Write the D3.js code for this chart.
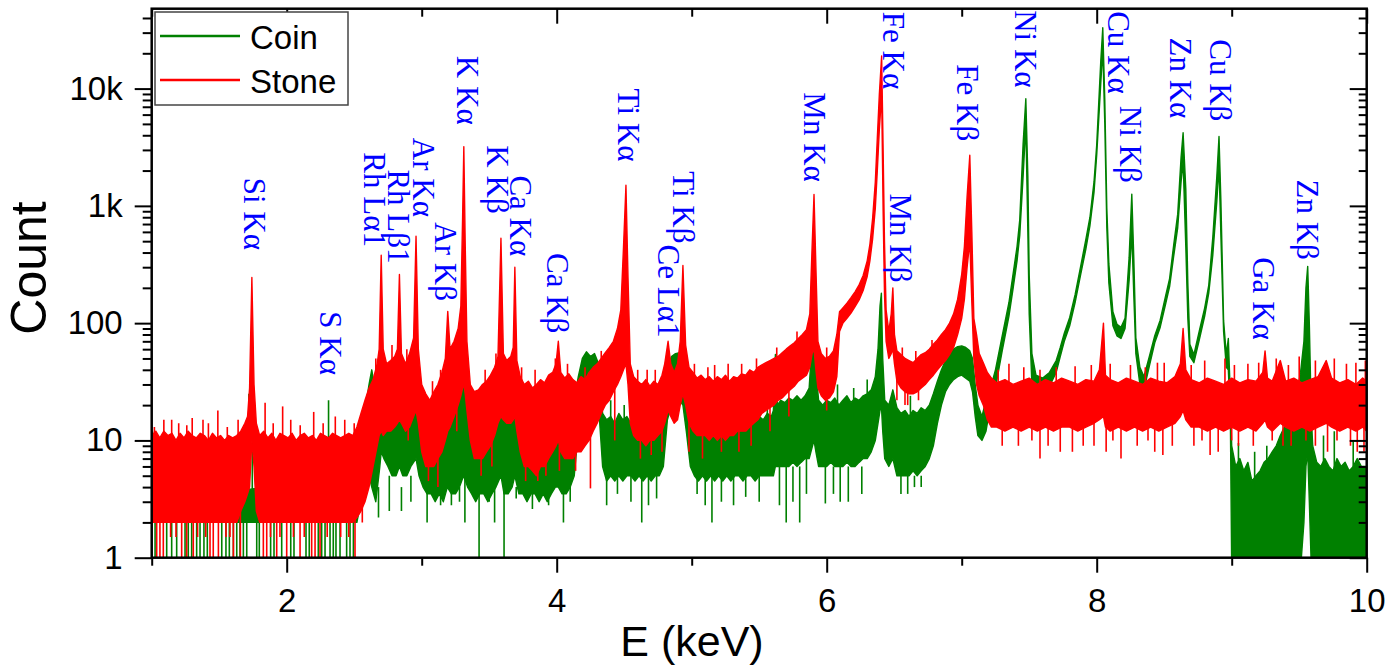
<!DOCTYPE html>
<html>
<head>
<meta charset="utf-8">
<script src="https://cdn.jsdelivr.net/npm/d3@7"></script>
<style>
  body { margin: 0; background: #fff; }
  svg { display: block; }
  text { font-family: "Liberation Sans", Arial, sans-serif; fill: #000; }
  .peak { font-family: "Liberation Serif", "Times New Roman", serif; fill: #0000ff; font-size: 31px; }
</style>
</head>
<body>
<svg width="1388" height="671"></svg>
<script>
// ---- data (E in keV, counts) ----
const seriesNames = ["Coin", "Stone"];
const seriesColors = ["#008000", "#ff0000"];
const xMajorTicks = [2, 4, 6, 8, 10];
const xMinorTicks = [1, 3, 5, 7, 9];
const yMajorTicks = [1, 10, 100, 1000, 10000];
const yTickLabels = ["1", "10", "100", "1k", "10k"];

// band of the noisy spectrum: [E, low, high]
const stoneBand = [
  [1.00,2,11],[1.03,2,12],[1.06,2,10.5],[1.09,2,12],[1.12,2,11],[1.15,2,11.5],[1.18,2,10],[1.21,2,11.5],
  [1.24,2,10.5],[1.27,2,12],[1.30,2,11],[1.33,2,10.5],[1.36,2,11.5],[1.39,2,11],[1.42,2,10],[1.45,2,11.5],
  [1.48,2,10.5],[1.51,2,11],[1.54,2,10],[1.57,2,11],[1.60,2,10.5],[1.63,2,11],[1.66,2.5,12],[1.69,3,14],
  [1.71,3.5,16],[1.725,4,28],[1.742,10,245],[1.758,6,30],[1.775,2.5,14],[1.80,2,11],[1.83,2,12],[1.86,2,10.5],
  [1.89,2,11.5],[1.92,2,10],[1.95,2,11.5],[1.98,2,11],[2.01,2,10.5],[2.04,2,11.5],[2.07,2,10],[2.10,2,11],
  [2.13,2,11.5],[2.16,2,10.5],[2.19,2,11],[2.22,2,10],[2.25,2,11.5],[2.28,2,11],[2.31,2,10.5],[2.34,2,11.5],
  [2.37,2,11],[2.40,2,10.5],[2.43,2,11],[2.46,2,11.5],[2.49,2,11],[2.52,2.2,13],
  [2.55,2.5,17],[2.58,3,22],[2.61,4,28],[2.64,6,33],[2.67,9,45],[2.685,11,60],[2.70,12,380],[2.715,11,60],
  [2.74,12,45],[2.77,12,48],[2.80,13,52],[2.82,14,60],[2.835,15,260],[2.85,14,55],[2.88,12,45],[2.91,13,55],
  [2.94,16,75],[2.958,18,550],[2.975,14,60],[3.00,8,30],[3.03,6,25],[3.06,6,22],[3.09,6,26],[3.12,7,30],
  [3.15,8,38],[3.175,10,50],[3.193,12,126],[3.21,13,60],[3.24,16,70],[3.27,20,90],[3.29,24,140],[3.303,28,800],
  [3.312,30,3200],[3.322,25,500],[3.335,18,70],[3.36,10,30],[3.39,7,26],[3.42,7,27],[3.45,7,30],[3.48,8,32],
  [3.51,9,36],[3.54,11,42],[3.565,14,52],[3.587,16,530],[3.605,15,55],[3.63,14,48],[3.66,14,52],[3.678,15,62],
  [3.69,16,300],[3.705,12,48],[3.73,8,35],[3.76,6,30],[3.79,6,32],[3.82,5.5,28],[3.85,5,30],[3.88,6,33],
  [3.91,6,31],[3.94,7,36],[3.97,8,38],[3.995,9,45],[4.012,10,70],[4.03,8,38],[4.06,7,34],[4.09,7,37],
  [4.12,7,33],[4.15,8,31],[4.18,8,35],[4.21,9,33],[4.24,10,38],[4.27,12,42],[4.30,14,45],[4.33,17,50],
  [4.36,20,56],[4.39,22,62],[4.42,26,70],[4.45,30,90],[4.475,35,130],[4.495,40,450],[4.513,45,1500],[4.528,30,250],
  [4.545,14,45],[4.57,11,35],[4.60,10,32],[4.63,10,30],[4.66,9,33],[4.69,10,29],[4.72,10,32],[4.75,11,30],
  [4.78,12,36],[4.80,14,45],[4.825,18,70],[4.845,16,45],[4.87,14,38],[4.895,15,45],[4.915,20,70],[4.935,25,310],
  [4.955,20,65],[4.98,14,42],[5.01,12,38],[5.04,11,34],[5.07,11,36],[5.10,11,33],[5.13,10,35],[5.16,11,32],
  [5.19,10,35],[5.22,11,33],[5.25,10,36],[5.28,11,32],[5.31,11,35],[5.34,12,34],[5.37,12,37],[5.40,12,36],
  [5.43,13,40],[5.46,14,38],[5.49,15,42],[5.52,17,44],[5.55,18,46],[5.58,19,48],[5.61,20,50],[5.64,22,52],
  [5.67,23,56],[5.70,25,60],[5.73,27,64],[5.76,29,68],[5.79,32,74],[5.82,34,80],[5.85,36,88],[5.875,42,120],
  [5.892,55,450],[5.906,60,1250],[5.92,40,300],[5.935,28,70],[5.96,24,55],[5.99,22,50],[6.02,23,52],[6.05,26,58],
  [6.075,35,80],[6.095,85,125],[6.12,100,135],[6.15,110,148],[6.18,122,165],[6.21,138,185],[6.24,158,212],[6.27,190,255],
  [6.30,250,340],[6.32,340,470],[6.34,520,780],[6.36,950,1600],[6.375,2000,3800],[6.39,4500,9000],[6.407,9000,19000],[6.418,900,3000],
  [6.428,180,500],[6.44,70,130],[6.46,50,85],[6.478,55,120],[6.49,60,200],[6.502,45,80],[6.52,32,58],[6.55,28,54],
  [6.58,26,50],[6.61,25,48],[6.64,25,46],[6.67,26,50],[6.70,28,54],[6.73,30,56],[6.76,33,60],[6.79,36,66],
  [6.82,40,72],[6.85,44,80],[6.88,48,88],[6.91,54,100],[6.94,62,120],[6.97,80,160],[7.00,110,260],[7.02,160,450],
  [7.04,300,1200],[7.06,500,2700],[7.075,150,600],[7.09,50,110],[7.11,30,80],[7.13,24,55],[7.16,20,46],[7.19,15,38],
  [7.22,13,34],[7.26,13,31],[7.32,12,33],[7.38,13,30],[7.44,12,32],[7.50,13,34],[7.56,12,30],[7.62,13,33],
  [7.68,12,31],[7.74,13,34],[7.80,13,32],[7.86,12,30],[7.92,13,33],[7.98,14,32],[8.02,15,40],[8.05,16,100],
  [8.065,13,36],[8.10,12,33],[8.16,13,31],[8.22,12,34],[8.28,13,32],[8.34,12,30],[8.40,13,34],[8.46,12,32],
  [8.52,13,31],[8.58,14,35],[8.62,16,45],[8.64,18,90],[8.66,15,40],[8.70,13,33],[8.76,13,31],[8.82,12,34],
  [8.88,13,32],[8.94,12,30],[9.00,13,34],[9.06,12,31],[9.12,13,33],[9.18,12,32],[9.23,14,38],[9.247,15,58],
  [9.265,13,34],[9.30,12,32],[9.36,14,48],[9.40,13,32],[9.46,12,34],[9.52,13,31],[9.58,12,33],[9.64,13,35],
  [9.70,14,48],[9.74,13,34],[9.80,12,31],[9.86,13,33],[9.92,12,30],[9.97,13,34],[10.0,12,32]
];

const coinBand = [
  [1.00,2,3],[2.52,2,5],[2.55,3,10],[2.58,4,18],[2.61,5,30],[2.63,4,40],[2.66,3,25],[2.69,6,38],
  [2.70,8,45],[2.72,7,32],[2.75,6,28],[2.78,5,24],[2.81,5,26],[2.835,6,35],[2.86,5,28],[2.89,5,32],
  [2.92,6,40],[2.958,7,70],[2.98,5,30],[3.01,4,18],[3.04,3.5,16],[3.07,3.5,17],[3.10,3,15],[3.13,3.5,18],
  [3.16,3,16],[3.19,4,20],[3.22,3.5,17],[3.25,3.5,18],[3.28,4,22],[3.31,5,35],[3.34,4,20],[3.37,3.5,16],
  [3.40,3,15],[3.43,3.5,17],[3.46,3.5,16],[3.49,3,18],[3.52,3.5,17],[3.55,4,19],[3.587,5,28],[3.61,3.5,18],
  [3.64,3.5,16],[3.67,4,19],[3.69,5,26],[3.72,3.5,17],[3.75,3.5,16],[3.78,3,15],[3.81,3.5,17],[3.84,3.5,16],
  [3.87,3,15],[3.90,3.5,17],[3.93,3,16],[3.96,3.5,18],[3.99,4,17],[4.012,4,22],[4.04,3.5,16],[4.07,3.5,17],
  [4.10,4,18],[4.13,5,22],[4.16,12,35],[4.19,22,50],[4.22,24,57],[4.25,22,52],[4.28,25,55],[4.31,20,45],
  [4.34,6,17],[4.37,4.5,15],[4.40,5,16],[4.43,4.5,14],[4.46,5,17],[4.49,4.5,15],[4.52,5,16],[4.55,5,14],
  [4.58,4.5,15],[4.61,5,16],[4.64,4.5,15],[4.67,5,14],[4.70,4.5,16],[4.73,5,15],[4.76,5,17],[4.79,6,20],
  [4.82,15,40],[4.85,20,52],[4.88,18,55],[4.91,22,56],[4.935,20,55],[4.96,12,30],[4.99,6,18],[5.02,5,15],
  [5.05,4.5,16],[5.08,5,14],[5.11,4.5,15],[5.14,5,17],[5.17,4.5,14],[5.20,5,16],[5.23,4.5,15],[5.26,5,17],
  [5.29,4.5,14],[5.32,5,16],[5.35,5,15],[5.38,4.5,17],[5.41,5,15],[5.44,5,16],[5.47,4.5,14],[5.50,5,16],
  [5.53,5,15],[5.56,5,17],[5.59,5,16],[5.605,5,18],[5.62,6,54],[5.635,6,20],[5.66,6,22],[5.69,6,21],
  [5.72,6,23],[5.75,6.5,22],[5.78,6,24],[5.81,6.5,22],[5.84,7,24],[5.87,7,28],[5.895,9,80],[5.906,10,118],
  [5.92,8,40],[5.94,6,22],[5.97,6,20],[6.00,6,22],[6.03,6.5,21],[6.06,6,23],[6.09,6,20],[6.12,6,22],
  [6.15,6.5,24],[6.18,6,21],[6.21,6,23],[6.24,6.5,22],[6.27,7,24],[6.30,7,25],[6.33,8,27],[6.36,10,35],
  [6.38,14,60],[6.395,18,140],[6.405,20,180],[6.415,12,50],[6.43,7,22],[6.46,6,20],[6.49,7,27],[6.52,5,19],
  [6.55,5,17],[6.58,5,18],[6.61,5,16],[6.64,5.5,18],[6.67,5,17],[6.70,5.5,19],[6.73,6,18],[6.76,7,20],
  [6.79,9,25],[6.82,14,32],[6.85,20,40],[6.88,26,48],[6.91,30,55],[6.94,33,60],[6.97,35,63],[7.00,36,64],
  [7.03,34,62],[7.06,32,58],[7.08,26,50],[7.10,16,30],[7.12,11,20],[7.15,10,16],[7.18,12,22],
  [7.21,19,27],[7.25,28,40],[7.30,58,78],[7.35,115,150],[7.38,195,260],[7.41,340,450],[7.43,560,760],[7.455,1800,3400],
  [7.475,5000,8200],[7.49,600,1800],[7.50,120,260],[7.52,30,55],[7.55,26,36],[7.60,26,34],[7.65,29,38],[7.70,38,48],
  [7.73,52,62],[7.76,70,82],[7.80,95,112],[7.84,150,175],[7.88,255,300],[7.92,430,520],[7.95,680,800],[7.98,1300,1600],
  [8.00,2700,3300],[8.03,11000,17000],[8.045,22000,33000],[8.06,5000,8000],[8.075,650,950],[8.09,220,320],[8.12,95,125],[8.15,78,98],
  [8.18,74,92],[8.21,90,110],[8.24,230,360],[8.26,600,1260],[8.275,170,350],[8.29,55,75],[8.32,30,42],[8.35,27,35],
  [8.39,43,52],[8.43,68,78],[8.47,92,106],[8.51,145,170],[8.54,205,240],[8.57,370,460],[8.60,650,850],[8.625,1600,2600],
  [8.64,2400,4200],[8.66,450,1400],[8.675,110,220],[8.69,52,66],[8.72,46,54],[8.76,72,86],[8.80,115,135],[8.83,180,210],
  [8.86,380,540],[8.89,1100,1800],[8.906,2200,3900],[8.92,550,1100],[8.94,85,105],[8.96,42,54],[8.975,40,74],[8.99,16,24],
  [9.00,0.8,9],[9.03,0.8,6],[9.06,0.8,7],[9.09,0.8,5.5],[9.12,0.8,6.5],[9.15,0.8,4.5],[9.18,0.8,5],[9.21,0.8,5.5],
  [9.24,0.8,6.5],[9.27,0.8,7],[9.30,0.8,8],[9.33,0.8,9],[9.36,0.8,11],[9.39,0.8,13],[9.42,0.8,16],[9.45,0.8,19],
  [9.48,0.8,24],[9.51,0.8,38],[9.535,2,70],[9.55,6,200],[9.563,8,305],[9.575,3,100],[9.59,0.8,16],[9.60,0.8,9],
  [9.63,0.8,6.5],[9.66,0.8,6],[9.69,0.8,7],[9.72,0.8,6],[9.75,0.8,5.5],[9.78,0.8,7],[9.81,0.8,6],[9.84,0.8,6.5],
  [9.87,0.8,5.5],[9.90,0.8,6],[9.93,0.8,7],[9.96,0.8,6],[10.0,0.8,6]
];

// single-channel spikes sticking out of the bands: [E, from, to]
const stoneSpikes = [
  [1.037,2.5,0.6],[1.061,2.5,0.6],[1.086,2.5,0.6],[1.222,2.5,0.6],[1.259,2.5,0.6],[1.308,2.5,0.6],[1.432,2.5,0.6],
  [1.456,2.5,0.6],[1.494,2.5,0.6],[1.605,2.5,0.6],[1.657,2.5,0.6],[1.827,2.5,0.6],[1.852,2.5,0.6],[1.926,2.5,0.6],
  [2.000,2.5,0.6],[2.099,2.5,0.6],[2.185,2.5,0.6],[2.210,2.5,0.6],[2.247,2.5,0.6],[2.506,2.5,0.6],
  [1.14,2.5,1.5],[1.18,2.5,1.5],[1.34,2.5,1.5],[1.40,2.5,1.5],[1.55,2.5,1.5],[1.58,2.5,1.5],[1.88,2.5,1.5],
  [1.95,2.5,1.5],[2.05,2.5,1.5],[2.13,2.5,1.5],[2.30,2.5,1.5],[2.40,2.5,1.5],[2.46,2.5,1.5],
  [1.09,8,15],[1.148,8,15],[1.30,8,15.5],[1.38,8,15],[1.49,8,18],[1.84,8,21],[1.97,8,19.5],[2.20,8,17.5],[2.36,8,16],[2.50,8,14],
  [1.02,8,13],[1.20,8,14],[1.26,8,13.5],[1.42,8,14],[1.56,8,13],[1.64,8,15],[1.90,8,14],[2.03,8,15],[2.10,8,13.5],[2.27,8,14],[2.43,8,15],
  [2.56,4,2],[3.05,8,4.5],[3.12,8,4],[3.44,9,5],[3.77,8,4.5],[4.02,9,5.5],[4.25,12,3.9],[4.43,28,10],[4.78,14,8],
  [5.08,14,7],[5.35,14,8],[5.58,22,12],[6.52,34,22],[6.60,30,20],
  [2.90,15,10],[3.26,20,12],[3.52,12,6],[3.86,8,4.5],[3.92,8,5],[4.14,10,5.5],[4.62,12,7],[4.70,12,7.5],[4.98,14,8],
  [5.22,14,8],[5.44,15,9],[5.72,28,16],[6.00,25,18],[6.58,30,20],[6.68,30,22],
  [2.66,30,50],[3.08,20,32],[3.47,25,40],[3.84,25,40],[4.08,28,45],[4.21,28,42],[4.67,25,40],[5.12,28,42],
  [5.27,28,45],[5.48,30,50],[6.00,40,62],
  [2.78,40,65],[2.89,40,60],[3.14,30,40],[3.55,40,55],[3.74,30,42],[3.99,35,50],[4.33,40,58],[4.60,28,40],[4.73,28,40],
  [5.02,30,45],[5.17,28,44],[5.37,30,45],[5.63,45,62],[5.78,60,85],[6.56,45,62],[6.66,42,58],[6.78,55,72],
  [7.30,20,9],[7.58,20,7],[7.73,20,8],[7.90,20,9],[8.07,20,8],[8.30,20,9],[8.49,20,7.5],[8.84,20,7.5],
  [9.05,20,9],[9.38,20,9],[9.62,20,9],[9.93,20,8],[9.98,20,8],
  [7.42,20,9],[7.52,20,10],[7.64,20,9],[7.82,20,8],[7.98,20,9],[8.12,20,10],[8.18,20,7],[8.38,20,10],[8.43,20,8],
  [8.56,20,9],[8.72,20,9],[8.78,20,10],[8.90,20,8],[9.00,20,10],[9.16,20,9],[9.30,20,10],[9.44,20,9],[9.55,20,10],
  [9.71,20,8],[9.78,20,10],[9.88,20,9],
  [7.35,25,45],[7.70,25,42],[7.96,25,44],[8.25,25,44],[8.50,25,46],[8.95,25,50],[9.12,25,45],[9.50,25,52],[9.85,25,45],[9.99,25,48],
  [7.27,25,40],[7.46,25,42],[7.58,25,40],[7.84,25,43],[8.10,25,45],[8.36,25,42],[8.45,25,46],[8.70,25,44],[8.80,25,48],
  [9.02,25,44],[9.20,25,46],[9.33,25,50],[9.42,25,44],[9.62,25,48],[9.76,25,50],[9.92,25,46]
];

const coinSpikes = [
  [1.000,2.2,0.6],[1.025,2.2,0.6],[1.111,2.2,0.6],[1.148,2.2,0.6],[1.185,2.2,0.6],[1.247,2.2,0.6],[1.271,2.2,0.6],
  [1.296,2.2,0.6],[1.333,2.2,0.6],[1.358,2.2,0.6],[1.387,2.2,0.6],[1.412,2.2,0.6],[1.519,2.2,0.6],[1.550,2.2,0.6],
  [1.575,2.2,0.6],[1.605,2.2,0.6],[1.630,2.2,0.6],[1.654,2.2,0.6],[1.679,2.2,0.6],[1.704,2.2,0.6],[1.778,2.2,0.6],
  [1.797,2.2,0.6],[1.881,2.2,0.6],[1.906,2.2,0.6],[1.963,2.2,0.6],[2.030,2.2,0.6],[2.054,2.2,0.6],[2.143,2.2,0.6],
  [2.167,2.2,0.6],[2.234,2.2,0.6],[2.259,2.2,0.6],[2.284,2.2,0.6],[2.321,2.2,0.6],[2.345,2.2,0.6],[2.365,2.2,0.6],
  [2.395,2.2,0.6],[2.444,2.2,0.6],[2.469,2.2,0.6],[2.494,2.2,0.6],
  [1.005,3,12],[1.10,3,9],[1.72,3,25],[1.745,3,22],[2.31,3,22],[2.45,3,8],
  [3.04,4,2],[3.22,4,2.8],[3.32,5,2],[3.425,4,0.6],[3.54,4,2],[3.61,4,0.6],[3.94,4,2.8],[4.05,4,2],
  [4.37,5,2.8],[4.63,5,2],[4.68,5,2.8],[5.10,5,2.8],[5.15,5,2],[5.31,5,2.8],[5.65,6,2.8],[5.70,6,2],
  [5.80,6,2],[5.99,6,2.9],[6.10,6,3],[6.55,5,3.5],[6.65,5,4],[2.68,4,2.2],[2.85,4,2.5],
  [2.76,5,2.5],[2.92,5,3],[3.14,4,2.8],[3.28,4,3],[3.50,4,3],[3.70,4,3.2],[3.82,4,2.6],[4.10,4,3],[4.45,5,3.5],
  [4.55,5,3],[4.74,5,3.2],[5.04,5,3.5],[5.22,5,3],[5.40,5,3.3],[5.50,5,3],[5.75,6,3],[5.85,7,3.5],[6.05,6,3.5],
  [6.16,6,3],[6.26,6,3.5],[6.60,5,3.5],[6.70,5,4],
  [3.02,15,26],[3.95,15,28],[4.50,14,20],[5.50,14,20],[6.20,20,28],
  [3.12,15,24],[3.36,15,25],[3.76,15,24],[4.40,14,22],[4.62,14,24],[5.06,14,22],[5.28,14,24],[5.56,14,22],
  [6.08,20,30],[6.30,22,33],[6.62,16,24],
  [9.05,5,9.5],[9.17,4,8],[9.26,5,9],[9.68,5,11],[9.76,5,12],[9.90,5,10]
];

// peak annotations: text, E of the label baseline, log10 count at the label start
const peakText = ["Si K\u03b1","S K\u03b1","Rh L\u03b11","Rh L\u03b21","Ar K\u03b1","Ar K\u03b2","K K\u03b1","K K\u03b2",
  "Ca K\u03b1","Ca K\u03b2","Ti K\u03b1","Ti K\u03b2","Ce L\u03b11","Mn K\u03b1","Fe K\u03b1","Mn K\u03b2","Fe K\u03b2",
  "Ni K\u03b1","Cu K\u03b1","Ni K\u03b2","Zn K\u03b1","Cu K\u03b2","Ga K\u03b1","Zn K\u03b2"];
const peakE = [1.686,2.247,2.575,2.753,2.938,3.099,3.259,3.481,3.654,3.926,4.456,4.864,4.753,5.834,6.419,6.469,6.963,
  7.395,8.080,8.173,8.543,8.839,9.160,9.481];
const peakLogCount = [3.240,2.101,3.457,3.311,3.580,2.860,4.279,3.516,3.260,2.598,4.000,3.296,2.670,3.968,4.655,3.106,4.207,
  4.669,4.660,3.853,4.436,4.421,2.562,3.225];

// ---- drawing ----
const svg = d3.select("svg");
const x = d3.scaleLinear().domain([1, 10]).range([151.7, 1366.7]);
const y = d3.scaleLog().domain([1, 48000]).range([557.7, 8.7]);

svg.append("clipPath").attr("id", "plot")
  .append("rect")
  .attr("x", x(1)).attr("y", y(48000))
  .attr("width", x(10) - x(1)).attr("height", y(1) - y(48000));

const plot = svg.append("g").attr("clip-path", "url(#plot)");

const band = d3.area()
  .x(d => x(d[0]))
  .y0(d => y(d[1]))
  .y1(d => y(d[2]));

function drawSeries(bandData, spikes, color) {
  plot.append("path")
    .datum(bandData)
    .attr("d", band)
    .attr("fill", color)
    .attr("stroke", color)
    .attr("stroke-width", 1.4)
    .attr("stroke-linejoin", "round");

  plot.selectAll(null).data(spikes).enter().append("line")
    .attr("x1", d => x(d[0])).attr("x2", d => x(d[0]))
    .attr("y1", d => y(d[1])).attr("y2", d => y(d[2]))
    .attr("stroke", color)
    .attr("stroke-width", 1.6);
}

drawSeries(coinBand, coinSpikes, seriesColors[0]);
drawSeries(stoneBand, stoneSpikes, seriesColors[1]);

// peak labels
svg.selectAll(".peak").data(peakText).enter().append("text")
  .attr("class", "peak")
  .attr("transform", (d, i) => "translate(" + x(peakE[i]) + "," + y(Math.pow(10, peakLogCount[i])) + ") rotate(90)")
  .text(d => d);

// axes
const yMinor = [];
yMajorTicks.forEach(d => { for (let k = 2; k <= 9; k++) if (d * k < 48000) yMinor.push(d * k); });

function styleAxis(g) {
  g.select(".domain").remove();
  g.selectAll(".tick line").attr("stroke", "#000").attr("stroke-width", 2);
  g.selectAll(".tick text").attr("font-size", 33).attr("fill", "#000")
    .attr("font-family", "'Liberation Sans', Arial, sans-serif");
}

svg.append("g").attr("transform", "translate(0," + y(1) + ")")
  .call(d3.axisBottom(x).tickValues(xMajorTicks).tickSizeInner(15).tickSizeOuter(0).tickPadding(16).tickFormat(d3.format("d")))
  .call(styleAxis);
svg.append("g").attr("transform", "translate(0," + y(1) + ")")
  .call(d3.axisBottom(x).tickValues(xMinorTicks).tickSizeInner(8).tickSizeOuter(0).tickFormat(""))
  .call(styleAxis);
svg.append("g").attr("transform", "translate(0," + y(48000) + ")")
  .call(d3.axisTop(x).tickValues(xMajorTicks).tickSizeInner(-15).tickSizeOuter(0).tickFormat(""))
  .call(styleAxis);
svg.append("g").attr("transform", "translate(0," + y(48000) + ")")
  .call(d3.axisTop(x).tickValues(xMinorTicks).tickSizeInner(-8).tickSizeOuter(0).tickFormat(""))
  .call(styleAxis);

svg.append("g").attr("transform", "translate(" + x(1) + ",0)")
  .call(d3.axisLeft(y).tickValues(yMajorTicks).tickSizeInner(17).tickSizeOuter(0).tickPadding(12)
    .tickFormat((d, i) => yTickLabels[i]))
  .call(styleAxis);
svg.append("g").attr("transform", "translate(" + x(1) + ",0)")
  .call(d3.axisLeft(y).tickValues(yMinor).tickSizeInner(9).tickSizeOuter(0).tickFormat(""))
  .call(styleAxis);
svg.append("g").attr("transform", "translate(" + x(10) + ",0)")
  .call(d3.axisRight(y).tickValues(yMajorTicks).tickSizeInner(-17).tickSizeOuter(0).tickFormat(""))
  .call(styleAxis);
svg.append("g").attr("transform", "translate(" + x(10) + ",0)")
  .call(d3.axisRight(y).tickValues(yMinor).tickSizeInner(-8).tickSizeOuter(0).tickFormat(""))
  .call(styleAxis);

// frame
svg.append("rect")
  .attr("x", x(1)).attr("y", y(48000))
  .attr("width", x(10) - x(1)).attr("height", y(1) - y(48000))
  .attr("fill", "none").attr("stroke", "#000").attr("stroke-width", 2.5);

// axis titles
svg.append("text")
  .attr("x", 692).attr("y", 656)
  .attr("text-anchor", "middle").attr("font-size", 43)
  .text("E (keV)");
svg.append("text")
  .attr("transform", "translate(46,268) rotate(-90)")
  .attr("text-anchor", "middle").attr("font-size", 50)
  .text("Count");

// legend
const legend = svg.append("g");
legend.append("rect")
  .attr("x", 155).attr("y", 12).attr("width", 193).attr("height", 93)
  .attr("fill", "#fff").attr("stroke", "#444").attr("stroke-width", 1.5);
const item = legend.selectAll(".item").data(seriesNames).enter().append("g")
  .attr("class", "item")
  .attr("transform", (d, i) => "translate(0," + (36 + i * 44) + ")");
item.append("line")
  .attr("x1", 160).attr("x2", 240)
  .attr("stroke", (d, i) => seriesColors[i]).attr("stroke-width", 2.5);
item.append("text")
  .attr("x", 250).attr("y", 13)
  .attr("font-size", 33)
  .text(d => d);
</script>
</body>
</html>
